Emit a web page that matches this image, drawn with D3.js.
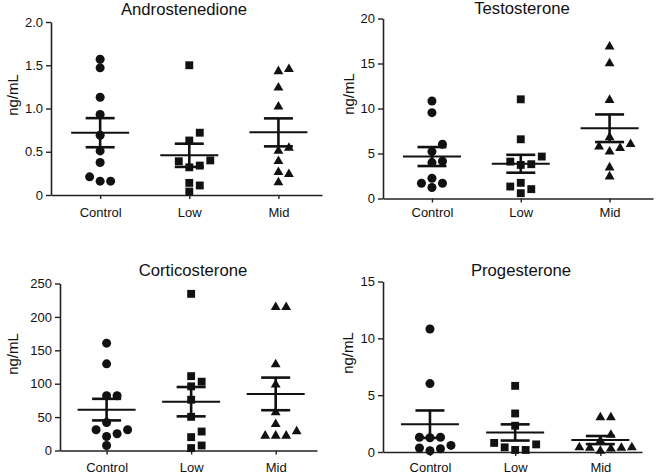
<!DOCTYPE html>
<html>
<head>
<meta charset="utf-8">
<script src="https://cdn.jsdelivr.net/npm/d3@7"></script>
<style>
  body { margin: 0; background: #fff; }
  text { font-family: "Liberation Sans", Arial, sans-serif; fill: #111; }
</style>
</head>
<body>
<div id="my_dataviz"></div>
<script>
// groups on the x axis
var groups = ["Control", "Low", "Mid"];

// values per group: [Control, Low, Mid]
var androstenedione = [
    [1.57, 1.47, 1.13, 0.93, 0.69, 0.51, 0.375, 0.21, 0.16, 0.16],
    [1.50, 0.72, 0.63, 0.40, 0.39, 0.34, 0.32, 0.14, 0.11, 0.04],
    [1.455, 1.43, 1.24, 1.02, 0.545, 0.51, 0.39, 0.265, 0.24, 0.145]
];
var testosterone = [
    [10.83, 9.54, 6.03, 5.21, 4.14, 3.99, 2.25, 1.70, 1.70, 1.22],
    [11.02, 6.58, 4.66, 4.10, 3.81, 3.73, 1.74, 1.33, 1.04, 0.59],
    [16.86, 15.0, 10.94, 6.80, 6.03, 5.58, 5.21, 5.77, 3.44, 2.44]
];
var corticosterone = [
    [160.7, 129.7, 82, 82, 42, 31, 31, 25, 21, 7.5],
    [234.5, 111.3, 103, 96, 76, 50.4, 28.4, 20, 7.5, 3.6],
    [214.6, 214.6, 128.7, 98.4, 57, 39.5, 22, 22, 22, 28.4]
];
var progesterone = [
    [10.82, 6.02, 1.3, 1.25, 1.3, 0.58, 0.35, 0.29, 0.11],
    [5.82, 3.39, 2.31, 0.8, 0.67, 0.41, 0.18, 0.18],
    [3.05, 3.05, 1.5, 1.0, 0.4, 0.4, 0.35, 0.35, 0.3, 0.1]
];

// y tick values
var androTicks = [0, 0.5, 1, 1.5, 2];
var testoTicks = [0, 5, 10, 15, 20];
var corticoTicks = [0, 50, 100, 150, 200, 250];
var progTicks = [0, 5, 10, 15];

var titles = ["Androstenedione", "Testosterone", "Corticosterone", "Progesterone"];
var yLabel = "ng/mL";

function plot() {
    document.getElementById("my_dataviz").innerHTML = '';

    var svg = d3.select("#my_dataviz")
        .append("svg")
            .attr("width", 660)
            .attr("height", 474);

    svg.append("rect").attr("width", 660).attr("height", 474).attr("fill", "#fff");

    var panels = [
        {data: androstenedione, ticks: androTicks, fmt: function(d) { return d === 0 ? "0" : d3.format(".1f")(d); },
         left: 51, right: 322, top: 22, bottom: 195, titleX: 184, titleY: 14.5, labX: 13, labY: 95, catY: 212},
        {data: testosterone, ticks: testoTicks, fmt: d3.format("d"),
         left: 383, right: 653, top: 18.5, bottom: 198.5, titleX: 522, titleY: 13.5, labX: 349, labY: 94, catY: 212},
        {data: corticosterone, ticks: corticoTicks, fmt: d3.format("d"),
         left: 60, right: 317, top: 283.5, bottom: 450.5, titleX: 193, titleY: 275.5, labX: 13, labY: 354, catY: 467},
        {data: progesterone, ticks: progTicks, fmt: d3.format("d"),
         left: 383, right: 642, top: 281.5, bottom: 452, titleX: 521, titleY: 275.5, labX: 348, labY: 353, catY: 467}
    ];

    var symbols = [d3.symbolCircle, d3.symbolSquare, d3.symbolTriangle];
    var symSizes = [64, 62, 42];

    panels.forEach(function(p, k) {
        var g = svg.append("g");

        var xScale = d3.scalePoint()
            .domain(groups)
            .range([p.left, p.right])
            .padding(0.52)
            .align(0.53);

        var yScale = d3.scaleLinear()
            .domain([0, d3.max(p.ticks)])
            .range([p.bottom, p.top]);

        // y axis
        var ya = g.append("g")
            .attr("transform", "translate(" + p.left + ",0)")
            .call(d3.axisLeft(yScale).tickValues(p.ticks).tickFormat(p.fmt)
                .tickSize(5).tickSizeOuter(0).tickPadding(3));
        // x axis
        var xa = g.append("g")
            .attr("transform", "translate(0," + p.bottom + ")")
            .call(d3.axisBottom(xScale).tickSize(4).tickSizeOuter(0)
                .tickPadding(p.catY - p.bottom - 4 - 4.6));

        [ya, xa].forEach(function(a) {
            a.select(".domain").attr("stroke", "#222").attr("stroke-width", 1.6);
            a.selectAll(".tick line").attr("stroke", "#222").attr("stroke-width", 1.4);
            a.selectAll("text").attr("font-size", 13).attr("fill", "#111")
                .style("font-family", '"Liberation Sans", Arial, sans-serif');
        });

        // title
        g.append("text")
            .attr("x", p.titleX)
            .attr("y", p.titleY)
            .attr("text-anchor", "middle")
            .attr("font-size", 16.7)
            .text(titles[k]);

        // y label
        g.append("text")
            .attr("transform", "translate(" + p.labX + "," + p.labY + ") rotate(-90)")
            .attr("text-anchor", "middle")
            .attr("dy", "0.35em")
            .attr("font-size", 15)
            .text(yLabel);

        p.data.forEach(function(values, gi) {
            var cx = xScale(groups[gi]);

            // spread points with close values side by side
            var order = d3.range(values.length).sort(function(a, b) { return values[a] - values[b]; });
            var slots = [0, 1, -1, 2, -2, 3, -3];
            var placed = [];
            order.forEach(function(i) {
                var py = yScale(values[i]);
                for (var s = 0; s < slots.length; s++) {
                    var hit = placed.some(function(q) { return q.s === slots[s] && Math.abs(q.y - py) < 8.6; });
                    if (!hit) { placed.push({s: slots[s], y: py}); break; }
                }
            });

            g.selectAll(".pt" + gi)
                .data(placed)
                .enter()
                .append("path")
                    .attr("d", d3.symbol().type(symbols[gi]).size(symSizes[gi]))
                    .attr("transform", function(d) { return "translate(" + (cx + d.s * 10.5) + "," + d.y + ")"; })
                    .attr("fill", "#111");

            // mean and SEM
            var m = d3.mean(values);
            var sem = d3.deviation(values) / Math.sqrt(values.length);

            g.append("line")
                .attr("x1", cx - 29).attr("x2", cx + 29)
                .attr("y1", yScale(m)).attr("y2", yScale(m))
                .attr("stroke", "#111").attr("stroke-width", 2);
            g.append("line")
                .attr("x1", cx).attr("x2", cx)
                .attr("y1", yScale(m - sem)).attr("y2", yScale(m + sem))
                .attr("stroke", "#111").attr("stroke-width", 2.6);
            [m - sem, m + sem].forEach(function(v) {
                g.append("line")
                    .attr("x1", cx - 14.5).attr("x2", cx + 14.5)
                    .attr("y1", yScale(v)).attr("y2", yScale(v))
                    .attr("stroke", "#111").attr("stroke-width", 2.6);
            });
        });
    });
}

window.addEventListener("load", plot);
</script>
</body>
</html>
